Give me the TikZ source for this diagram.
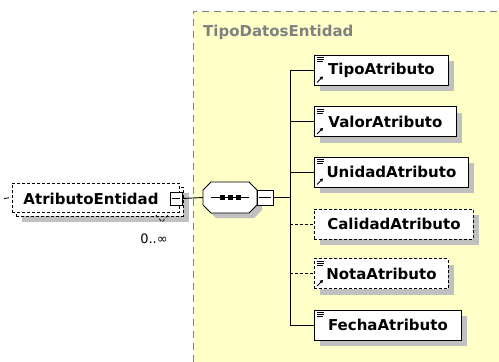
\documentclass[tikz,border=0pt]{standalone}
\usepackage{fontspec}
\setmainfont{DejaVu Sans}
\usetikzlibrary{arrows.meta,shadows}
\definecolor{yel}{RGB}{255,255,200}
\definecolor{shd}{RGB}{192,192,192}
\definecolor{ttl}{RGB}{128,128,128}
\newcommand{\elemlines}[1]{\draw[line width=0.7pt] ([shift={(3,3)}]#1.north west) -- ++(7,0) ++(-7,2) -- ++(7,0) ++(-7,2) -- ++(6,0);}
\newcommand{\elemarrow}[1]{\draw[-{Triangle[length=3pt,width=3.5pt]}, line width=0.9pt] ([shift={(3,-3)}]#1.south west) -- ++(6,-6);}
\newcommand{\minusline}[1]{\draw[line width=1.1pt] ([xshift=2.5pt]#1.west) -- ([xshift=-2.5pt]#1.east);}
\newcommand{\octa}[3]{% x0 y0 style
  \path[#3] (#1+8,#2) -- (#1+46,#2) -- (#1+54,#2+8) -- (#1+54,#2+23) -- (#1+46,#2+31) -- (#1+8,#2+31) -- (#1,#2+23) -- (#1,#2+8) -- cycle;}
\begin{document}
\begin{tikzpicture}[x=1pt,y=-1pt,
  txt/.style={font=\bfseries\fontsize{15}{17}\selectfont},
  shad/.style={drop shadow={shadow xshift=6pt,shadow yshift=-6pt,fill=shd,opacity=1}},
  elem/.style={draw=black, fill=white, line width=0.9pt, minimum height=30pt, anchor=west, inner sep=0pt, txt, shad},
  opt/.style={dash pattern=on 3pt off 2pt},
  minusbox/.style={draw=black, fill=white, line width=0.8pt, minimum width=12pt, minimum height=13pt, inner sep=0pt},
  conn/.style={line width=0.9pt}]
\useasboundingbox (0,0) rectangle (499,362);
% complex type area
\fill[yel] (193,11) rectangle (499,362);
\draw[ttl, line width=0.9pt, dash pattern=on 7pt off 5pt] (193,362) -- (193,11) -- (499,11);
\node[anchor=west, text=ttl, txt, inner sep=0pt] (title) at (203,32) {TipoDatosEntidad};
% root element (repeated, optional)
\node[draw=black, fill=white, opt, line width=0.9pt, minimum width=167pt, minimum height=29pt, inner sep=0pt, shad] (attrback) at (99.5,201.5) {};
\node[draw=black, fill=white, opt, line width=0.9pt, minimum width=167pt, minimum height=29pt, inner sep=0pt, txt] (attr) at (95.5,197.5) {};
\node[txt, inner sep=0pt] (attrtxt) at (91,198.5) {AtributoEntidad};
\node[minusbox] (attrm) at (176,198.5) {};
\minusline{attrm}
\coordinate (stub) at (4,198.5);
\draw[conn, dash pattern=on 5pt off 3pt] (stub) -- (attr.west);
\draw[line width=0.7pt, opt] (156,215) -- (162,222) -- (168,215);
\node[font=\fontsize{13}{15}\selectfont, inner sep=0pt] (card) at (154,239) {0..∞};
% sequence compositor
\octa{208}{187}{fill=shd}
\octa{203}{182}{draw=black, fill=white, line width=0.9pt}
\node[minimum width=54pt, minimum height=31pt, inner sep=0pt] (seq) at (230,197.5) {};
\draw[line width=1.1pt] ([xshift=8pt]seq.west) -- ([xshift=-8pt]seq.east);
\foreach \xx in {-8,0,8} \fill ([xshift=\xx pt]seq.center) ++(-2.5,-2.5) rectangle ++(5,5);
\node[minusbox, minimum width=16pt, minimum height=15pt] (seqm) at (265,197.5) {};
\minusline{seqm}
\draw[conn] (attrm.east) -- (seq.west);
\coordinate (branch) at (290,197.5);
\draw[conn] (seqm.east) -- (branch);
% children
\node[elem, minimum width=134pt] (c1) at (314,70) {TipoAtributo};
\node[elem, minimum width=142pt] (c2) at (314,121.5) {ValorAtributo};
\node[elem, minimum width=154pt] (c3) at (314,172) {UnidadAtributo};
\node[elem, opt, minimum width=159pt] (c4) at (314,224) {CalidadAtributo};
\node[elem, opt, minimum width=134pt] (c5) at (314,273.5) {NotaAtributo};
\node[elem, minimum width=147pt] (c6) at (314,325) {FechaAtributo};
\foreach \n in {c1,c2,c3,c5,c6} {\elemlines{\n}}
\foreach \n in {c1,c2,c3,c5} {\elemarrow{\n}}
\draw[conn] (c1.west -| branch) -- (c6.west -| branch);
\draw[conn] (c1.west -| branch) -- (c1.west);
\draw[conn] (c2.west -| branch) -- (c2.west);
\draw[conn] (c3.west -| branch) -- (c3.west);
\draw[conn, opt] (c4.west -| branch) -- (c4.west);
\draw[conn, opt] (c5.west -| branch) -- (c5.west);
\draw[conn] (c6.west -| branch) -- (c6.west);
\end{tikzpicture}
\end{document}
